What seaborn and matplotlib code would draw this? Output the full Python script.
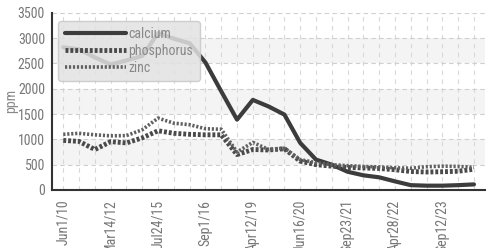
import matplotlib
matplotlib.use("Agg")
import matplotlib.pyplot as plt
import seaborn as sns
import pandas as pd
import numpy as np

dates = ["Jun1/10", "", "", "Mar14/12", "", "", "Jul24/15", "", "", "Sep1/16", "", "",
         "Apr12/19", "", "", "Jun16/20", "", "", "Sep23/21", "", "", "Apr28/22", "", "",
         "Sep12/23", "", ""]
calcium = [2820, 2780, 2620, 2480, 2560, 2650, 3100, 2990, 2900, 2520, 1950, 1390,
           1780, 1650, 1490, 930, 600, 500, 360, 290, 250, 170, 95, 85, 85, 95, 110]
phosphorus = [980, 960, 800, 955, 930, 1030, 1170, 1120, 1100, 1090, 1090, 700,
              800, 790, 815, 570, 500, 470, 445, 435, 425, 400, 365, 355, 360, 370, 410]
zinc = [1100, 1120, 1090, 1070, 1075, 1190, 1420, 1320, 1290, 1210, 1200, 750,
        940, 800, 825, 600, 540, 500, 480, 465, 455, 440, 430, 460, 470, 465, 450]

df = pd.DataFrame({"idx": np.arange(len(dates)), "calcium": calcium,
                   "phosphorus": phosphorus, "zinc": zinc})

sns.set_style("white")
plt.rcParams['font.family'] = ['Roboto Condensed', 'DejaVu Sans']

fig = plt.figure(figsize=(4.99, 2.48), dpi=100)
ax = fig.add_axes([0.104, 0.234, 0.868, 0.714])

for lo, hi in [(500, 1000), (1500, 2000), (2500, 3000)]:
    ax.axhspan(lo, hi, color="#f4f4f4", zorder=0, lw=0)

sns.lineplot(data=df, x="idx", y="calcium", ax=ax, color="#3c3c3c", lw=3,
             label="calcium", zorder=3)
sns.lineplot(data=df, x="idx", y="phosphorus", ax=ax, color="#4a4a4a", lw=3.5,
             linestyle=(0, (0.6, 0.4)), label="phosphorus", zorder=3)
sns.lineplot(data=df, x="idx", y="zinc", ax=ax, color="#606060", lw=2.6,
             linestyle=(0, (0.6, 0.5)), label="zinc", zorder=3)

ax.set_xlim(-0.72, 26.7)
ax.set_ylim(0, 3500)
ax.set_yticks(np.arange(0, 3501, 500))
major = [i for i, d in enumerate(dates) if d]
ax.set_xticks(major)
ax.set_xticklabels([dates[i] for i in major], rotation=90, fontsize=10, color="#777777")
ax.set_xticks(np.arange(len(dates)), minor=True)
ax.tick_params(axis="y", labelsize=10, labelcolor="#777777", direction="inout",
               length=6, width=1.2, color="#333333", pad=2)
ax.tick_params(axis="x", which="major", direction="inout", length=8, width=1.2,
               color="#333333", pad=3)
ax.tick_params(axis="x", which="minor", direction="inout", length=4, width=1,
               color="#333333")

ax.set_xlabel("")
ax.set_ylabel("ppm", color="#888888", fontsize=10, labelpad=0)

ax.grid(True, axis="y", which="major", color="#cfcfcf", linestyle=(0, (4, 3)), lw=0.8)
ax.grid(True, axis="x", which="both", color="#d8d8d8", linestyle=(0, (4, 4)), lw=0.8)
ax.set_axisbelow(True)

for s in ["top", "right"]:
    ax.spines[s].set_visible(False)
for s in ["left", "bottom"]:
    ax.spines[s].set_color("#333333")
    ax.spines[s].set_linewidth(1.5)

leg = ax.legend(loc="upper left", bbox_to_anchor=(0.015, 0.955), borderaxespad=0,
                frameon=True, fancybox=True, fontsize=10, handlelength=4.4,
                handletextpad=0.2, labelspacing=0.2, borderpad=0.45)
leg.get_frame().set_facecolor("#e2e2e2")
leg.get_frame().set_edgecolor("#c8c8c8")
leg.get_frame().set_alpha(0.85)
for t in leg.get_texts():
    t.set_color("#888888")
leg.set_zorder(5)

fig.savefig("out.png", dpi=100)
